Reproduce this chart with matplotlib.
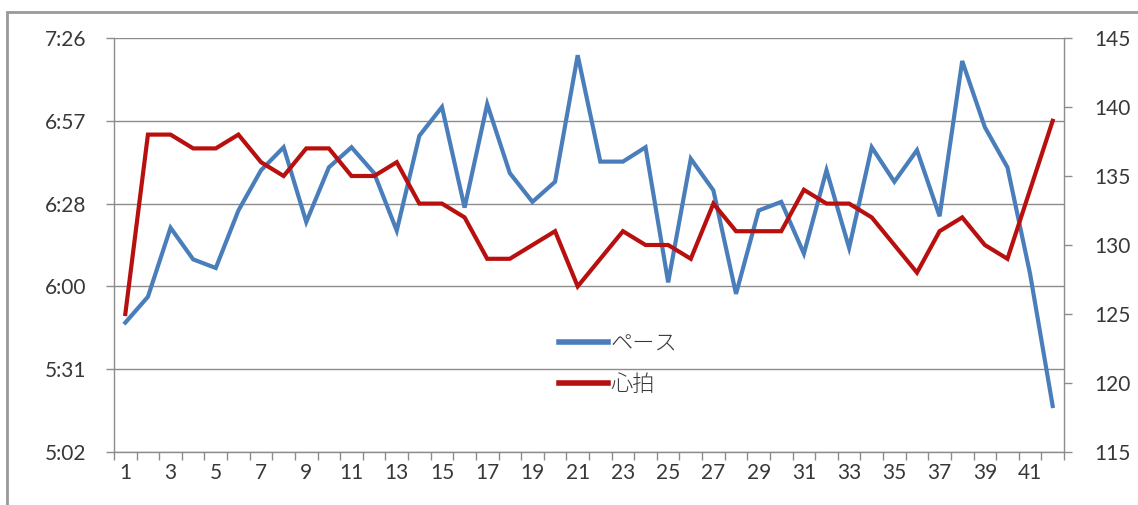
import numpy as np
import matplotlib
matplotlib.use('Agg')
import matplotlib.pyplot as plt
from matplotlib.ticker import FixedLocator, FuncFormatter
from matplotlib.patches import Rectangle
from matplotlib.lines import Line2D

plt.rcParams['font.family'] = ['Lato', 'Noto Sans CJK JP', 'DejaVu Sans']

# lap number
laps = list(range(1, 43))
# pace per lap, seconds per km
pace_sec = [347, 356, 380, 369, 366, 386, 400, 408, 382, 401,
            408, 399, 379, 412, 422, 387, 423, 399, 389, 396,
            440, 403, 403, 408, 361, 404, 393, 357, 386, 389,
            371, 400, 373, 408, 396, 407, 384, 438, 415, 401,
            364, 318]
# heart rate per lap
heart_rate = [125, 138, 138, 137, 137, 138, 136, 135, 137, 137,
              135, 135, 136, 133, 133, 132, 129, 129, 130, 131,
              127, 129, 131, 130, 130, 129, 133, 131, 131, 131,
              134, 133, 133, 132, 130, 128, 131, 132, 130, 129,
              134, 139]
pace_label = 'ペース'
hr_label = '心拍'

pace_min, pace_max = 302, 446
hr_ticks = [115, 120, 125, 130, 135, 140, 145]

blue = '#4A7EBB'
red = '#B80F0F'
grey = '#8C8C8C'
text_col = '#383838'


def fmt_pace(v, pos=None):
    s = int(round(v))
    return '{0}:{1:02d}'.format(s // 60, s % 60)


fig = plt.figure(figsize=(11.38, 5.05), dpi=100)
ax = fig.add_axes([114 / 1138, 1 - 452 / 505, 950 / 1138, 414 / 505])
ax2 = ax.twinx()

ax.plot(laps, pace_sec, color=blue, lw=3, solid_joinstyle='miter', zorder=3)
ax2.plot(laps, heart_rate, color=red, lw=3, solid_joinstyle='miter', zorder=3)

ax.set_xlim(0.5, 42.5)
ax.set_ylim(pace_min, pace_max)
ax.yaxis.set_major_locator(FixedLocator(np.linspace(pace_min, pace_max, 6)))
ax.yaxis.set_major_formatter(FuncFormatter(fmt_pace))
ax.grid(axis='y', color=grey, lw=1)
ax.set_axisbelow(True)

ax2.set_ylim(hr_ticks[0], hr_ticks[-1])
ax2.set_yticks(hr_ticks)

ax.set_xticks(laps[::2])
ax.set_xticks(np.arange(0.5, 43, 1), minor=True)
ax.tick_params(axis='x', which='major', length=0, pad=8, labelsize=15, labelcolor=text_col)
ax.tick_params(axis='x', which='minor', length=6, color=grey, width=1)
ax.tick_params(axis='y', length=6, color=grey, width=1, pad=14, labelsize=15, labelcolor=text_col)
ax2.tick_params(axis='y', length=6, color=grey, width=1, pad=16, labelsize=15, labelcolor=text_col)

for a in (ax, ax2):
    a.spines['top'].set_visible(False)
    for side in ('left', 'right', 'bottom'):
        a.spines[side].set_color(grey)
        a.spines[side].set_linewidth(1)
ax.spines['right'].set_visible(False)
ax2.spines['left'].set_visible(False)
ax2.spines['bottom'].set_visible(False)

handles = [Line2D([], [], color=blue, lw=4), Line2D([], [], color=red, lw=4)]
leg = fig.legend(handles, [pace_label, hr_label], loc='center left',
                 bbox_to_anchor=(0.474, 0.278), bbox_transform=fig.transFigure,
                 frameon=False, fontsize=16, handlelength=2.2, handletextpad=0.1,
                 labelspacing=0.9, labelcolor=text_col)
for t in leg.get_texts():
    t.set_fontweight('light')

fig.patches.append(Rectangle((7 / 1138, -0.1), 1.5, 1 - 12 / 505 + 0.1,
                             transform=fig.transFigure, fill=False,
                             edgecolor='#999999', lw=2))

fig.savefig('out.png', dpi=100)
